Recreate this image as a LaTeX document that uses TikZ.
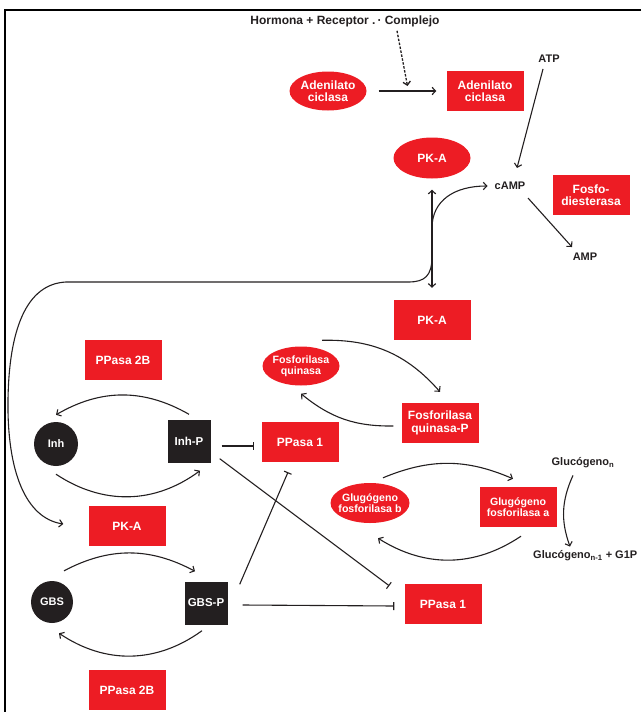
\documentclass[tikz,border=0pt]{standalone}
\usepackage{fontspec}
\setmainfont{Liberation Sans}
\usepackage{xcolor}
\definecolor{GlycoRed}{HTML}{ED1C24}
\definecolor{GlycoInk}{HTML}{231F20}
\usepackage{tikz}
\usetikzlibrary{arrows.meta,shapes.geometric}
\tikzset{
  gbox/.style={fill=GlycoRed,text=white,align=center,inner sep=0pt,minimum width=77pt,minimum height=40pt,font=\fontsize{12}{12.5}\selectfont\bfseries},
  goval/.style={ellipse,fill=GlycoRed,text=white,align=center,inner xsep=-8pt,inner ysep=0pt,minimum width=77pt,minimum height=39pt,font=\fontsize{12}{12.5}\selectfont\bfseries},
  gsmall/.style={font=\fontsize{10.6}{11}\selectfont\bfseries},
  gdot/.style={circle,fill=GlycoInk,text=white,inner sep=0pt,font=\fontsize{11}{12}\selectfont\bfseries},
  gsq/.style={fill=GlycoInk,text=white,inner sep=0pt,minimum size=43pt,font=\fontsize{11.5}{12}\selectfont\bfseries},
  glabel/.style={inner sep=1pt,text=GlycoInk,font=\fontsize{11}{12}\selectfont\bfseries},
  gflow/.style={-{Straight Barb[length=3.5pt,width=7.5pt]},draw=GlycoInk,line width=1.1pt},
  gboth/.style={gflow,{Straight Barb[length=3.5pt,width=7.5pt]}-{Straight Barb[length=3.5pt,width=7.5pt]}},
  ginhib/.style={-{Bar[width=8pt,line width=1.1pt]},draw=GlycoInk,line width=1.1pt},
  gdash/.style={gflow,line width=1.3pt,dash pattern=on 2.5pt off 1.5pt},
  gframe/.style={draw=black,line width=1.5pt}
}
\begin{document}
\begin{tikzpicture}[x=1pt,y=-1pt]
  \useasboundingbox (0,0) rectangle (641,712);
  \draw[gframe] (641,10) -| (5,712);

  \node[glabel,font=\fontsize{12}{13}\selectfont\bfseries] (hr) at (345,21) {Hormona + Receptor .\kern2pt· Complejo};
  \node[goval] (adc1) at (328,91) {Adenilato\\ciclasa};
  \node[gbox] (adc2) at (485,91) {Adenilato\\ciclasa};
  \node[glabel] (atp) at (549,59) {ATP};
  \node[goval,minimum height=41pt] (pka1) at (432,158) {PK-A};
  \node[glabel] (camp) at (510,186) {cAMP};
  \node[gbox] (pde) at (591,195) {Fosfo-\\diesterasa};
  \node[glabel] (amp) at (585,257) {AMP};
  \node[gbox] (pka2) at (432,320) {PK-A};
  \node[gbox] (ppb1) at (123,360) {PPasa 2B};
  \node[goval,gsmall] (fq) at (301,366) {Fosforilasa\\quinasa};
  \node[gbox] (fqp) at (440,423) {Fosforilasa\\quinasa-P};
  \node[gdot,minimum size=44pt] (inh) at (56,444) {Inh};
  \node[gsq] (inhp) at (189,441) {Inh-P};
  \node[gbox] (ppm) at (300,442) {PPasa 1};
  \node[goval,gsmall,minimum width=79pt,minimum height=40pt] (gpb) at (370,503) {Glugógeno\\fosforilasa b};
  \node[gbox,gsmall] (gpa) at (518,507) {Glugógeno\\fosforilasa a};
  \node[glabel] (glcn) at (583,463) {Glucógeno\textsubscript{n}};
  \node[glabel,anchor=west] (glcn1) at (532,556) {Glucógeno\textsubscript{n-1} + G1P};
  \node[gbox] (pka3) at (127,526) {PK-A};
  \node[gdot,minimum size=42pt] (gbs) at (52,602) {GBS};
  \node[gsq] (gbsp) at (206,603) {GBS-P};
  \node[gbox] (ppl) at (443,604) {PPasa 1};
  \node[gbox] (ppb2) at (127,690) {PPasa 2B};

  \draw[gflow] ([xshift=12pt]adc1.east) -- coordinate[midway] (adcmid) ([xshift=-10pt]adc2.west);
  \draw[gdash] ([xshift=52pt,yshift=-3pt]hr.south) -- ([yshift=5pt]adcmid);
  \draw[gflow] ([xshift=-6pt,yshift=-5pt]atp.south) -- ([xshift=7pt,yshift=13pt]camp.north);
  \draw[gflow] ([xshift=18pt,yshift=-7pt]camp.south) -- ([xshift=-13pt,yshift=5pt]amp.north);
  \draw[gboth] ([yshift=-11pt]pka1.south) -- ([yshift=12pt]pka2.north);
  \draw[gboth] ([xshift=-6pt]camp.west) .. controls (455,186) and (432,200) .. (432,228) -- (432,256)
    .. controls (432,276) and (425,282) .. (408,282) -- (66,282)
    .. controls (26,284) and (9,330) .. (8,400)
    .. controls (7,470) and (25,518) .. ([xshift=-25pt,yshift=2pt]pka3.west);

  \draw[gflow] ([xshift=21pt,yshift=6pt]fq.north) to[bend left=25] ([yshift=11pt]fqp.north);
  \draw[gflow] ([xshift=-8pt,yshift=-3pt]fqp.west) to[bend left=20] ([yshift=-8pt]fq.south);
  \draw[gflow] ([xshift=13pt,yshift=5pt]gpb.north) to[bend left=23] ([xshift=-5pt,yshift=8pt]gpa.north);
  \draw[gflow] ([xshift=3pt,yshift=-9pt]gpa.south) to[bend left=33] ([xshift=8pt,yshift=-15pt]gpb.south);
  \draw[gflow] ([xshift=-10pt,yshift=-6pt]glcn.south) to[bend right=22] ([xshift=38pt,yshift=3pt]glcn1.north west);

  \draw[gflow] ([yshift=5pt]inhp.north) to[bend right=30] ([yshift=7pt]inh.north);
  \draw[gflow] ([yshift=-8pt]inh.south) to[bend right=35] ([xshift=11pt,yshift=-8pt]inhp.south);
  \draw[gflow] ([xshift=12pt,yshift=10pt]gbs.north) to[bend left=28] ([xshift=-11pt,yshift=10pt]gbsp.north);
  \draw[gflow] ([xshift=-4pt,yshift=-6pt]gbsp.south) to[bend left=35] ([xshift=7pt,yshift=-10pt]gbs.south);

  \draw[ginhib] ([xshift=11pt,yshift=-5pt]inhp.east) -- ([xshift=-7pt,yshift=-4pt]ppm.west);
  \draw[ginhib] ([xshift=9pt,yshift=4pt]inhp.south east) -- ([xshift=-15pt,yshift=-2pt]ppl.north west);
  \draw[ginhib] ([xshift=15pt,yshift=-2pt]gbsp.east) -- ([xshift=-10pt,yshift=-2pt]ppl.west);
  \draw[ginhib] ([xshift=12pt,yshift=-3pt]gbsp.north east) -- ([xshift=-12pt,yshift=-10pt]ppm.south);
\end{tikzpicture}
\end{document}
